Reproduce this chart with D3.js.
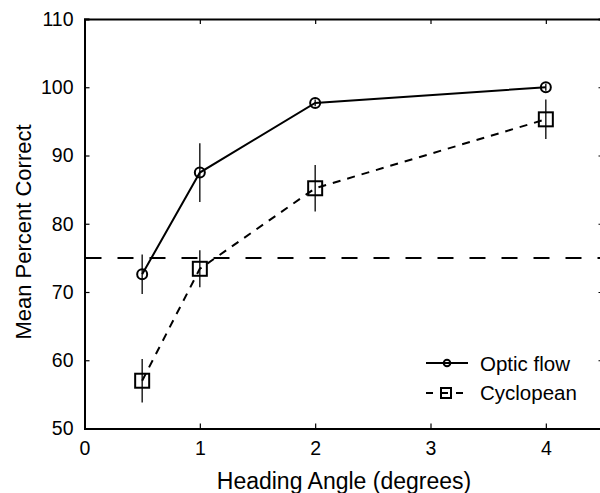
<!DOCTYPE html>
<html>
<head>
<meta charset="utf-8">
<script src="https://cdn.jsdelivr.net/npm/d3@7"></script>
<style>
  body { margin: 0; background: #fff; }
  text { font-family: "Liberation Sans", Arial, sans-serif; fill: #000; }
</style>
</head>
<body>
<script>
// data
const angles = [0.5, 1, 2, 4]
const opticFlow = [72.6, 87.5, 97.7, 100.0]
const opticErr = [2.9, 4.3, 0.5, 0.5]
const cyclopean = [57.0, 73.4, 85.2, 95.3]
const cycloErr = [3.2, 2.7, 3.4, 2.9]
const xTicks = [0, 1, 2, 3, 4]
const yTicks = [50, 60, 70, 80, 90, 100, 110]
const threshold = 75
const seriesNames = ["Optic flow", "Cyclopean"]

const w = 600
const h = 493
const plotL = 84.5, plotR = 603.5, plotT = 19, plotB = 428.5

const svg = d3.select("body")
  .append("svg")
  .attr("width", w)
  .attr("height", h)

const x = d3.scaleLinear().domain([0, 4.5]).range([plotL, plotR])
const y = d3.scaleLinear().domain([50, 110]).range([plotB, plotT])

// axes with inward ticks
svg.append("g")
  .attr("transform", "translate(0," + plotB + ")")
  .call(d3.axisBottom(x).tickValues(xTicks).tickSize(-5).tickPadding(13).tickFormat(d3.format("d")))
svg.append("g")
  .attr("transform", "translate(0," + plotT + ")")
  .call(d3.axisTop(x).tickValues(xTicks).tickSize(-5).tickFormat(""))
svg.append("g")
  .attr("transform", "translate(" + plotL + ",0)")
  .call(d3.axisLeft(y).tickValues(yTicks).tickSize(-5).tickPadding(11).tickFormat(d3.format("d")))
svg.append("g")
  .attr("transform", "translate(" + plotR + ",0)")
  .call(d3.axisRight(y).tickValues(yTicks).tickSize(-5).tickFormat(""))

svg.selectAll(".domain").attr("stroke", "#000").attr("stroke-width", 2)
svg.selectAll(".tick line").attr("stroke", "#000").attr("stroke-width", 1.2)
svg.selectAll(".tick text")
  .style("font-family", "Liberation Sans, Arial, sans-serif")
  .style("font-size", "19.5px")
  .attr("fill", "#000")

// 75% line
svg.append("line")
  .attr("x1", x(0)).attr("x2", x(4.5))
  .attr("y1", y(threshold)).attr("y2", y(threshold))
  .attr("stroke", "#000")
  .attr("stroke-width", 2)
  .attr("stroke-dasharray", "16,16")
  .attr("stroke-dashoffset", -1)

const line = d3.line().x((d) => x(d[0])).y((d) => y(d[1]))

// error bars
const drawErr = (vals, errs) => {
  svg.append("g").selectAll("line")
    .data(angles)
    .enter()
    .append("line")
    .attr("x1", (d) => x(d)).attr("x2", (d) => x(d))
    .attr("y1", (d, i) => y(vals[i] - errs[i]))
    .attr("y2", (d, i) => y(vals[i] + errs[i]))
    .attr("stroke", "#000")
    .attr("stroke-width", 1.3)
}
drawErr(opticFlow, opticErr)
drawErr(cyclopean, cycloErr)

svg.append("path")
  .attr("d", line(angles.map((a, i) => [a, opticFlow[i]])))
  .attr("fill", "none")
  .attr("stroke", "#000")
  .attr("stroke-width", 2)

svg.append("path")
  .attr("d", line(angles.map((a, i) => [a, cyclopean[i]])))
  .attr("fill", "none")
  .attr("stroke", "#000")
  .attr("stroke-width", 2)
  .attr("stroke-dasharray", "8,7")

svg.append("g").selectAll("circle")
  .data(angles)
  .enter()
  .append("circle")
  .attr("cx", (d) => x(d))
  .attr("cy", (d, i) => y(opticFlow[i]))
  .attr("r", 5)
  .attr("fill", "none")
  .attr("stroke", "#000")
  .attr("stroke-width", 2)

svg.append("g").selectAll("rect")
  .data(angles)
  .enter()
  .append("rect")
  .attr("x", (d) => x(d) - 7)
  .attr("y", (d, i) => y(cyclopean[i]) - 7)
  .attr("width", 14)
  .attr("height", 14)
  .attr("fill", "none")
  .attr("stroke", "#000")
  .attr("stroke-width", 2)

// axis labels
svg.append("text")
  .attr("x", (plotL + plotR) / 2)
  .attr("y", 489)
  .attr("text-anchor", "middle")
  .style("font-size", "23px")
  .text("Heading Angle (degrees)")

svg.append("text")
  .attr("transform", "translate(31,232) rotate(-90)")
  .attr("text-anchor", "middle")
  .style("font-size", "22px")
  .text("Mean Percent Correct")

// legend
const leg = svg.append("g")
leg.append("line")
  .attr("x1", 426).attr("x2", 468).attr("y1", 363).attr("y2", 363)
  .attr("stroke", "#000").attr("stroke-width", 2)
leg.append("circle")
  .attr("cx", 447).attr("cy", 363).attr("r", 3.3)
  .attr("fill", "none").attr("stroke", "#000").attr("stroke-width", 2)
leg.append("line")
  .attr("x1", 426).attr("x2", 468).attr("y1", 393).attr("y2", 393)
  .attr("stroke", "#000").attr("stroke-width", 2)
  .attr("stroke-dasharray", "7,8")
leg.append("rect")
  .attr("x", 441).attr("y", 388).attr("width", 10).attr("height", 10)
  .attr("fill", "none").attr("stroke", "#000").attr("stroke-width", 2)
leg.selectAll("text")
  .data(seriesNames)
  .enter()
  .append("text")
  .attr("x", 480)
  .attr("y", (d, i) => 371 + i * 29)
  .style("font-size", "20.5px")
  .text((d) => d)
</script>
</body>
</html>
